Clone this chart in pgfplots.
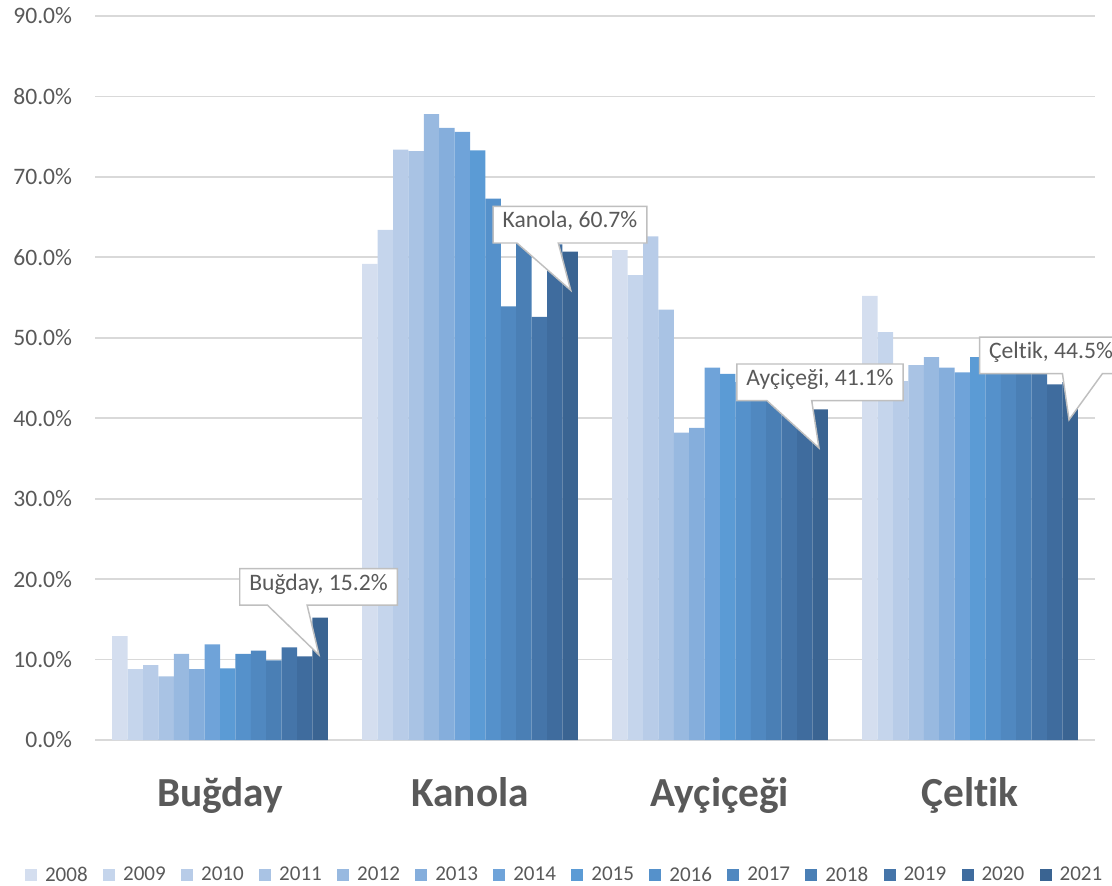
\documentclass[border=0pt]{standalone}
\usepackage{pgfplots}
\pgfplotsset{compat=1.18}
\usepackage{pgfplotstable}
\usepackage{fontspec}
\setmainfont{Carlito}[Ligatures=NoCommon]
\usetikzlibrary{calc}
\definecolor{txt}{HTML}{595959}
\definecolor{gridc}{HTML}{D9D9D9}
\definecolor{bord}{HTML}{BFBFBF}
\definecolor{c2008}{HTML}{D4DEEF}
\definecolor{c2009}{HTML}{C5D5EC}
\definecolor{c2010}{HTML}{B8CCE8}
\definecolor{c2011}{HTML}{A9C3E4}
\definecolor{c2012}{HTML}{98B9E0}
\definecolor{c2013}{HTML}{85AEDC}
\definecolor{c2014}{HTML}{6FA3D9}
\definecolor{c2015}{HTML}{5B9BD5}
\definecolor{c2016}{HTML}{5591CB}
\definecolor{c2017}{HTML}{5088C0}
\definecolor{c2018}{HTML}{4A7FB5}
\definecolor{c2019}{HTML}{4575A9}
\definecolor{c2020}{HTML}{3F6C9E}
\definecolor{c2021}{HTML}{3A6492}

\pgfplotstableread{
x y2008 y2009 y2010 y2011 y2012 y2013 y2014 y2015 y2016 y2017 y2018 y2019 y2020 y2021
0 12.9 8.8 9.3 7.9 10.7 8.8 11.9 8.9 10.7 11.1 9.9 11.5 10.4 15.2
1 59.2 63.4 73.4 73.2 77.8 76.1 75.6 73.3 67.3 53.9 63.0 52.6 61.6 60.7
2 60.9 57.8 62.6 53.5 38.2 38.8 46.3 45.5 44.5 44.0 43.5 43.0 42.5 41.1
3 55.2 50.7 44.6 46.6 47.6 46.3 45.7 47.6 46.5 46.2 46.0 45.8 44.2 44.5
}\data

\tikzset{lbl/.style={rectangle, draw=none, fill=none,
  text=txt, font=\fontsize{17.7}{20}\selectfont, inner xsep=7pt, inner ysep=0pt,
  minimum height=27pt, text height=0.68em, text depth=0.2em}}
% #1 name, #2 base start frac, #3 base end frac, #4 tip
\newcommand\callshape[4]{%
  \draw[draw=bord, line width=1.1pt, fill=white, line join=miter]
    (#1.north west) -- (#1.north east) -- (#1.south east)
    -- ($(#1.south west)!#3!(#1.south east)$) -- #4
    -- ($(#1.south west)!#2!(#1.south east)$) -- (#1.south west) -- cycle;}

\begin{document}
\begin{tikzpicture}
\useasboundingbox (0,0) rectangle (834pt,663.75pt);
\clip (0,0) rectangle (834pt,663.75pt);
\begin{axis}[
  at={(71.25pt,108.75pt)}, anchor=south west,
  scale only axis, width=750pt, height=543pt,
  xmin=-0.5, xmax=3.5, ymin=0, ymax=90,
  ybar=0pt, bar width=11.55pt,
  xtick={0,1,2,3}, xticklabels={Buğday,Kanola,Ayçiçeği,Çeltik},
  ytick={0,10,...,90},
  yticklabel={\pgfmathprintnumber[fixed,fixed zerofill,precision=1]{\tick}\%},
  /pgf/number format/assume math mode=true,
  axis line style={draw=none}, major tick length=0pt,
  ymajorgrids, grid style={draw=gridc, line width=1.3pt},
  yticklabel style={font=\fontsize{17.7}{20}\selectfont, text=txt, anchor=east, inner sep=0pt, xshift=-17pt},
  xticklabel style={font=\fontsize{31}{36}\selectfont\bfseries, text=txt, anchor=base, inner sep=0pt, yshift=-50pt},
  legend columns=14,
  legend image code/.code={\fill[#1] (0pt,-4.5pt) rectangle (9pt,4.5pt);},
  legend style={draw=none, fill=none, at={(axis description cs:0.470,-0.1865)}, anchor=center,
    font=\fontsize{15.8}{18}\selectfont, text=txt,
    /tikz/every odd column/.append style={column sep=4pt},
    /tikz/every even column/.append style={column sep=9.5pt}},
  clip=false,
]
\addplot[fill=c2008, draw=none] table[x=x,y=y2008]{\data}; \addlegendentry{2008}
\addplot[fill=c2009, draw=none] table[x=x,y=y2009]{\data}; \addlegendentry{2009}
\addplot[fill=c2010, draw=none] table[x=x,y=y2010]{\data}; \addlegendentry{2010}
\addplot[fill=c2011, draw=none] table[x=x,y=y2011]{\data}; \addlegendentry{2011}
\addplot[fill=c2012, draw=none] table[x=x,y=y2012]{\data}; \addlegendentry{2012}
\addplot[fill=c2013, draw=none] table[x=x,y=y2013]{\data}; \addlegendentry{2013}
\addplot[fill=c2014, draw=none] table[x=x,y=y2014]{\data}; \addlegendentry{2014}
\addplot[fill=c2015, draw=none] table[x=x,y=y2015]{\data}; \addlegendentry{2015}
\addplot[fill=c2016, draw=none] table[x=x,y=y2016]{\data}; \addlegendentry{2016}
\addplot[fill=c2017, draw=none] table[x=x,y=y2017]{\data}; \addlegendentry{2017}
\addplot[fill=c2018, draw=none] table[x=x,y=y2018]{\data}; \addlegendentry{2018}
\addplot[fill=c2019, draw=none] table[x=x,y=y2019]{\data}; \addlegendentry{2019}
\addplot[fill=c2020, draw=none] table[x=x,y=y2020]{\data}; \addlegendentry{2020}
\addplot[fill=c2021, draw=none] table[x=x,y=y2021]{\data}; \addlegendentry{2021}
% Buğday
\node[lbl, text opacity=0] (b1) at (axis cs:0.394,19.03) {Buğday, 15.2\%};
\callshape{b1}{0.176}{0.428}{(axis cs:0.396,10.57)}
\node[lbl] at (b1.center) {Buğday, 15.2\%};
% Kanola
\node[lbl, text opacity=0] (b2) at (axis cs:1.4,64.05) {Kanola, 60.7\%};
\callshape{b2}{0.155}{0.424}{(axis cs:1.403,55.9)}
\node[lbl] at (b2.center) {Kanola, 60.7\%};
% Ayçiçeği
\node[lbl, text opacity=0] (b3) at (axis cs:2.4,44.47) {Ayçiçeği, 41.1\%};
\callshape{b3}{0.18}{0.45}{(axis cs:2.396,36.3)}
\node[lbl] at (b3.center) {Ayçiçeği, 41.1\%};
% Çeltik
\node[lbl, text opacity=0] (b4) at (axis cs:3.324,47.82) {Çeltik, 44.5\%};
\callshape{b4}{0.58}{0.86}{(axis cs:3.396,39.8)}
\node[lbl] at (b4.center) {Çeltik, 44.5\%};
\end{axis}
\end{tikzpicture}
\end{document}
